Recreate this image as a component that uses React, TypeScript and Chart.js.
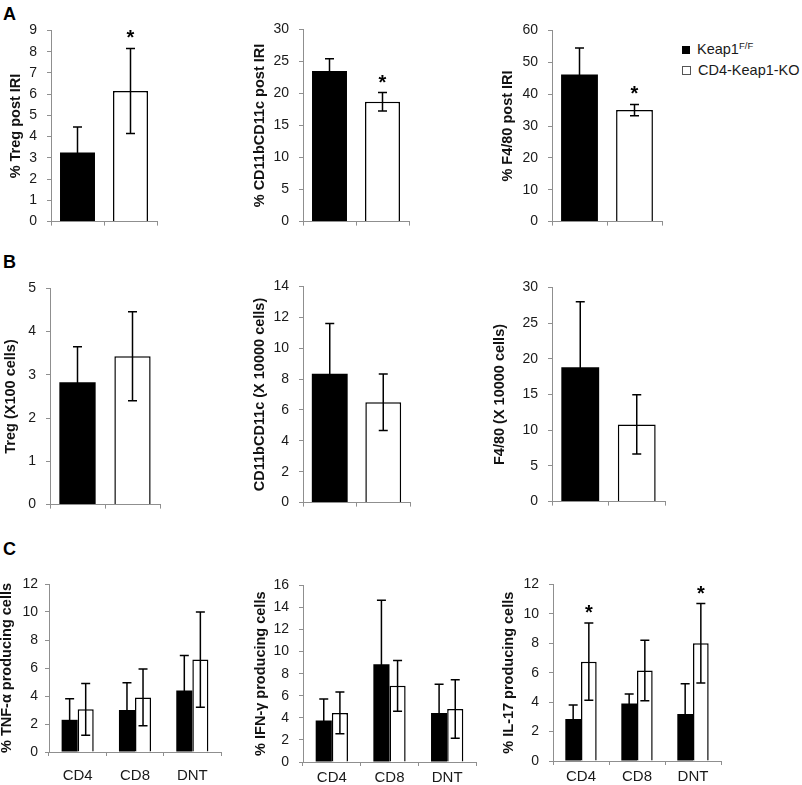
import React, { useEffect, useRef } from 'react';
import { Chart, registerables } from 'chart.js';

Chart.register(...registerables);

const FONT = '"Liberation Sans", Arial, Helvetica, sans-serif';
const AXIS = '#8f8f8f';
const INK = '#1a1a1a';
const TITLE_SIZE = 14.5;
const TITLE_LH = 1.2;

// ---------- data ----------
const groupNames = ['Keap1F/F', 'CD4-Keap1-KO'];
const cellTypes = ['CD4', 'CD8', 'DNT'];

// A: % of cells post IRI  [Keap1F/F, CD4-Keap1-KO]
const tregPct = [3.25, 6.15];
const tregPctErr = [1.2, 2.0];
const tregPctSig = ['', '*'];
const cd11Pct = [23.5, 18.7];
const cd11PctErr = [1.9, 1.45];
const cd11PctSig = ['', '*'];
const f480Pct = [46.2, 35.0];
const f480PctErr = [8.3, 1.75];
const f480PctSig = ['', '*'];

// B: absolute counts
const tregCount = [2.83, 3.43];
const tregCountErr = [0.82, 1.03];
const cd11Count = [8.35, 6.5];
const cd11CountErr = [3.25, 1.83];
const f480Count = [18.8, 10.8];
const f480CountErr = [9.2, 4.15];

// C: cytokine producing cells by cell type  (CD4, CD8, DNT)
const tnfWT = [2.3, 3.0, 4.4];
const tnfWTErr = [1.5, 1.95, 2.5];
const tnfKO = [3.05, 3.9, 6.6];
const tnfKOErr = [1.85, 2.03, 3.4];
const ifnWT = [3.75, 8.85, 4.45];
const ifnWTErr = [1.95, 5.8, 2.6];
const ifnKO = [4.45, 6.9, 4.8];
const ifnKOErr = [1.9, 2.3, 2.65];
const il17WT = [2.85, 3.9, 3.2];
const il17WTErr = [0.95, 0.65, 2.05];
const il17KO = [6.75, 6.15, 8.0];
const il17KOErr = [2.62, 2.05, 2.7];
const il17KOSig = ['*', '', '*'];

// ---------- error bar + significance plugin ----------
const errorBarPlugin = {
  id: 'errorBars',
  afterDatasetsDraw(chart: any) {
    const ctx = chart.ctx;
    const yScale = chart.scales.y;
    chart.data.datasets.forEach((ds: any, di: number) => {
      const meta = chart.getDatasetMeta(di);
      const errs = ds.errors || [];
      const sig = ds.sig || [];
      meta.data.forEach((bar: any, i: number) => {
        const v = ds.data[i];
        if (v === null || v === undefined) return;
        const e = errs[i] || 0;
        const x = bar.x;
        const top = yScale.getPixelForValue(v + e);
        const bot = yScale.getPixelForValue(Math.max(0, v - e));
        const cap = 4.5;
        ctx.save();
        ctx.strokeStyle = '#000';
        ctx.lineWidth = 1.5;
        ctx.beginPath();
        ctx.moveTo(x, top);
        ctx.lineTo(x, bot);
        ctx.moveTo(x - cap, top);
        ctx.lineTo(x + cap, top);
        ctx.moveTo(x - cap, bot);
        ctx.lineTo(x + cap, bot);
        ctx.stroke();
        if (sig[i]) {
          ctx.fillStyle = '#000';
          ctx.font = 'bold 20px ' + FONT;
          ctx.textAlign = 'center';
          ctx.textBaseline = 'alphabetic';
          ctx.fillText(sig[i], x, top - 4);
        }
        ctx.restore();
      });
    });
  },
};

type PanelDef = {
  title: string;
  max: number;
  step: number;
  plot: { l: number; r: number; t: number; b: number };
  titleX: number;
  tickPad: number;
  labels: string[];
  wt: (number | null)[];
  wtErr: number[];
  ko: (number | null)[];
  koErr: number[];
  koSig?: string[];
  categoryPct: number;
  barPct: number;
  showX: boolean;
  xPad?: number;
};

// two-bar panels: each group in its own slot
const solo = (vals: number[], errs: number[]) => ({
  wt: [vals[0], null],
  wtErr: [errs[0], 0],
  ko: [null, vals[1]],
  koErr: [0, errs[1]],
});

const panels: PanelDef[] = [
  { title: '% Treg post IRI', max: 9, step: 1, plot: { l: 51, r: 157, t: 30, b: 224 }, titleX: 16, tickPad: 10,
    labels: groupNames, ...solo(tregPct, tregPctErr), koSig: tregPctSig, categoryPct: 1, barPct: 0.66, showX: false },
  { title: '% CD11bCD11c post IRI', max: 30, step: 5, plot: { l: 303, r: 409, t: 29, b: 224 }, titleX: 260, tickPad: 10,
    labels: groupNames, ...solo(cd11Pct, cd11PctErr), koSig: cd11PctSig, categoryPct: 1, barPct: 0.66, showX: false },
  { title: '% F4/80 post IRI', max: 60, step: 10, plot: { l: 552, r: 662, t: 30, b: 224 }, titleX: 508, tickPad: 10,
    labels: groupNames, ...solo(f480Pct, f480PctErr), koSig: f480PctSig, categoryPct: 1, barPct: 0.67, showX: false },
  { title: 'Treg (X100 cells)', max: 5, step: 1, plot: { l: 50, r: 160, t: 288, b: 507 }, titleX: 11, tickPad: 10,
    labels: groupNames, ...solo(tregCount, tregCountErr), categoryPct: 1, barPct: 0.66, showX: false },
  { title: 'CD11bCD11c (X 10000 cells)', max: 14, step: 2, plot: { l: 303, r: 410, t: 286, b: 505 }, titleX: 260, tickPad: 10,
    labels: groupNames, ...solo(cd11Count, cd11CountErr), categoryPct: 1, barPct: 0.67, showX: false },
  { title: 'F4/80 (X 10000 cells)', max: 30, step: 5, plot: { l: 552, r: 665, t: 287, b: 504 }, titleX: 500, tickPad: 10,
    labels: groupNames, ...solo(f480Count, f480CountErr), categoryPct: 1, barPct: 0.67, showX: false },
  { title: '% TNF-\u03b1 producing cells', max: 12, step: 2, plot: { l: 49, r: 221, t: 584, b: 752 }, titleX: 7, tickPad: 7,
    labels: cellTypes, wt: tnfWT, wtErr: tnfWTErr, ko: tnfKO, koErr: tnfKOErr, categoryPct: 0.56, barPct: 1, showX: true, xPad: 11 },
  { title: '% IFN-\u03b3 producing cells', max: 16, step: 2, plot: { l: 303, r: 476, t: 585, b: 762 }, titleX: 261, tickPad: 10,
    labels: cellTypes, wt: ifnWT, wtErr: ifnWTErr, ko: ifnKO, koErr: ifnKOErr, categoryPct: 0.56, barPct: 1, showX: true, xPad: 3 },
  { title: '% IL-17 producing cells', max: 12, step: 2, plot: { l: 553, r: 721, t: 584, b: 761 }, titleX: 509, tickPad: 10,
    labels: cellTypes, wt: il17WT, wtErr: il17WTErr, ko: il17KO, koErr: il17KOErr, koSig: il17KOSig, categoryPct: 0.56, barPct: 1, showX: true, xPad: 3 },
];

function BarPanel({ p }: { p: PanelDef }) {
  const ref = useRef<HTMLCanvasElement>(null);
  const left = Math.round(p.titleX - (TITLE_SIZE * TITLE_LH) / 2);
  const top = p.plot.t - 18;
  const right = p.plot.r + 8;
  const bottom = p.showX ? 785 : p.plot.b + 16;
  const width = right - left;
  const height = bottom - top;
  const yW = p.plot.l - left;
  const xH = bottom - p.plot.b;

  useEffect(() => {
    const chart = new Chart(ref.current as HTMLCanvasElement, {
      type: 'bar',
      data: {
        labels: p.labels,
        datasets: [
          {
            label: groupNames[0],
            data: p.wt,
            backgroundColor: '#000',
            borderColor: '#000',
            borderWidth: 0,
            categoryPercentage: p.categoryPct,
            barPercentage: p.barPct,
            errors: p.wtErr,
          } as any,
          {
            label: groupNames[1],
            data: p.ko,
            backgroundColor: '#fff',
            borderColor: '#000',
            borderWidth: 1.5,
            categoryPercentage: p.categoryPct,
            barPercentage: p.barPct,
            errors: p.koErr,
            sig: p.koSig,
          } as any,
        ],
      },
      options: {
        animation: false,
        responsive: false,
        devicePixelRatio: 1,
        skipNull: true,
        layout: { padding: { top: p.plot.t - top, right: right - p.plot.r, left: 0, bottom: 0 } },
        plugins: { legend: { display: false }, tooltip: { enabled: false } },
        scales: {
          x: {
            ticks: { display: p.showX, color: INK, font: { size: 15, family: FONT }, padding: p.xPad ?? 4 },
            grid: { display: true, drawOnChartArea: false, drawTicks: true, tickLength: 4, color: AXIS, offset: true },
            border: { display: true, color: AXIS, width: 1 },
            afterFit: (s: any) => { s.height = xH; },
          },
          y: {
            min: 0,
            max: p.max,
            ticks: { stepSize: p.step, color: INK, font: { size: 14, family: FONT }, padding: p.tickPad },
            grid: { display: true, drawOnChartArea: false, drawTicks: true, tickLength: 4, color: AXIS },
            border: { display: true, color: AXIS, width: 1 },
            title: {
              display: true,
              text: p.title,
              color: '#111',
              font: { size: TITLE_SIZE, weight: 'bold', family: FONT, lineHeight: TITLE_LH },
              padding: { top: 0, bottom: 0 },
            },
            afterFit: (s: any) => { s.width = yW; },
          },
        },
      } as any,
      plugins: [errorBarPlugin],
    });
    return () => chart.destroy();
  }, []);

  return (
    <canvas
      ref={ref}
      width={width}
      height={height}
      style={{ position: 'absolute', left, top, width, height }}
    />
  );
}

const letterStyle: React.CSSProperties = {
  position: 'absolute',
  left: 3,
  font: `bold 18px/18px ${FONT}`,
  color: '#000',
};

export default function App() {
  useEffect(() => {
    Chart.defaults.font.family = FONT;
  }, []);
  return (
    <div style={{ position: 'fixed', left: 0, top: 0, width: 802, height: 785, background: '#fff', overflow: 'hidden' }}>
      <div style={{ ...letterStyle, top: 5 }}>A</div>
      <div style={{ ...letterStyle, top: 253 }}>B</div>
      <div style={{ ...letterStyle, top: 540 }}>C</div>
      {panels.map((p, i) => (
        <BarPanel key={i} p={p} />
      ))}
      <div style={{ position: 'absolute', left: 682, top: 41, font: `14.5px/18px ${FONT}`, color: INK }}>
        <div style={{ display: 'flex', alignItems: 'center', height: 18 }}>
          <span style={{ display: 'inline-block', width: 8, height: 8, background: '#000', marginRight: 7 }} />
          <span>
            Keap1<span style={{ fontSize: 9.5, position: 'relative', top: -5 }}>F/F</span>
          </span>
        </div>
        <div style={{ display: 'flex', alignItems: 'center', height: 18, marginTop: 2 }}>
          <span style={{ display: 'inline-block', width: 7, height: 7, border: '1px solid #555', background: '#fff', marginRight: 7, boxSizing: 'content-box' }} />
          <span>CD4-Keap1-KO</span>
        </div>
      </div>
    </div>
  );
}
